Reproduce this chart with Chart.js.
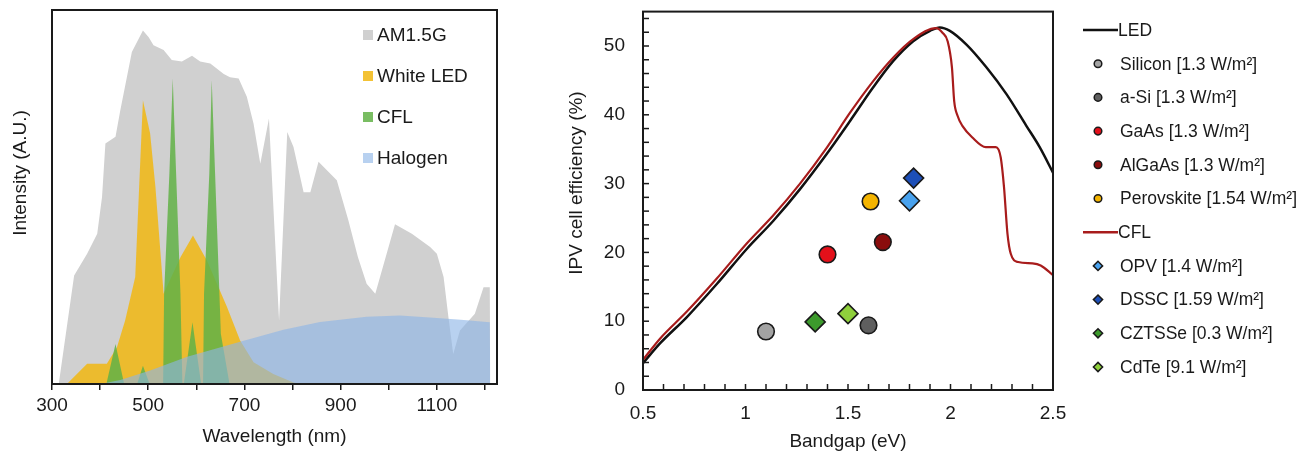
<!DOCTYPE html>
<html>
<head>
<meta charset="utf-8">
<title>Light source spectra and IPV cell efficiency</title>
<script src="https://cdn.jsdelivr.net/npm/chart.js@4.4.1/dist/chart.umd.min.js"></script>
<style>
  html, body { margin: 0; padding: 0; background: #fff; }
  #wrap { position: relative; width: 1316px; height: 453px; overflow: hidden; }
  #spectrumChart { position: absolute; left: 0; top: 0; }
  #ipvChart { position: absolute; left: 540px; top: 0; }
</style>
</head>
<body>
<div id="wrap">
  <canvas id="spectrumChart" width="530" height="453"></canvas>
  <canvas id="ipvChart" width="776" height="453"></canvas>
</div>
<script>
// ==========================================================================
// 1. DATA (spectra in arbitrary units, efficiencies in %)
// ==========================================================================
const spectrumLabels = ['AM1.5G', 'White LED', 'CFL', 'Halogen'];

const am15Wavelength = [314, 346, 373, 394, 404, 411, 432, 442, 466, 489, 501, 511, 532, 549, 570, 591, 608, 629, 657, 670, 688, 705, 719, 733, 751, 772, 789, 802, 823, 837, 854, 892, 916, 936, 954, 972, 1013, 1048, 1086, 1100, 1114, 1124, 1134, 1148, 1179, 1197, 1210, 1211];
const am15Intensity  = [0, 29.0, 34.8, 40.2, 50.0, 64.3, 66.1, 73.2, 88.8, 94.5, 92.7, 90.6, 89.3, 86.6, 86.2, 87.8, 86.2, 85.7, 82.9, 82.0, 81.7, 76.8, 69.6, 58.9, 71.0, 17.0, 67.4, 63.4, 51.3, 51.3, 59.4, 54.5, 43.8, 33.9, 26.8, 24.1, 42.7, 40.2, 36.6, 34.8, 28.6, 17.9, 8.0, 14.3, 18.8, 25.9, 25.9, 0];

const whiteLedWavelength = [331, 373, 414, 435, 452, 473, 489, 504, 515, 532, 567, 593, 622, 664, 691, 719, 760, 802, 816];
const whiteLedIntensity  = [0, 5.4, 5.4, 9.8, 17.0, 28.6, 75.9, 67.0, 52.7, 24.1, 33.9, 39.7, 33.0, 20.5, 11.6, 5.8, 2.7, 0.4, 0];

const cflWavelength = [413, 432, 450, 477, 489, 503, 531, 533, 544, 551, 558, 567, 571, 574, 592, 610, 614, 616, 627, 632, 639, 648, 651, 669];
const cflIntensity  = [0, 10.7, 0, 0, 4.9, 0, 0, 24.1, 56.3, 81.7, 56.3, 24.1, 0, 0, 16.5, 0, 0, 24.1, 56.3, 81.3, 56.3, 24.1, 13.4, 0];

const halogenWavelength = [400, 442, 504, 581, 691, 781, 857, 954, 1023, 1093, 1150, 1210, 1211];
const halogenIntensity  = [0, 1.1, 3.6, 7.3, 11.3, 14.5, 16.6, 18.0, 18.3, 17.7, 17.2, 16.5, 0];

const wavelengthTicks = [300, 500, 700, 900, 1100];

const ledCurveBandgap    = [0.5, 0.584, 0.714, 0.86, 1.006, 1.136, 1.266, 1.396, 1.51, 1.623, 1.72, 1.818, 1.9, 1.948, 1.997, 2.078, 2.175, 2.273, 2.37, 2.435, 2.5];
const ledCurveEfficiency = [3.9, 6.8, 10.6, 15.4, 20.5, 24.6, 29.2, 34.3, 39.1, 44.0, 47.8, 50.7, 52.2, 52.7, 52.2, 50.2, 46.9, 43.0, 38.4, 35.3, 31.6];

const cflCurveBandgap    = [0.5, 0.584, 0.714, 0.86, 1.006, 1.136, 1.266, 1.396, 1.51, 1.623, 1.72, 1.818, 1.93, 1.962, 1.986, 2.007, 2.018, 2.034, 2.058, 2.107, 2.172, 2.221, 2.245, 2.261, 2.278, 2.294, 2.33, 2.4, 2.44, 2.5];
const cflCurveEfficiency = [4.4, 7.5, 11.4, 16.2, 21.3, 25.4, 30.0, 35.2, 40.3, 44.9, 48.3, 51.0, 52.6, 51.9, 50.7, 46.9, 42.0, 39.9, 38.4, 36.7, 35.3, 35.3, 33.8, 29.5, 22.7, 19.8, 18.6, 18.4, 18.1, 16.7];

const cellLabels = ['Silicon [1.3 W/m²]', 'a-Si [1.3 W/m²]', 'GaAs [1.3 W/m²]', 'AlGaAs [1.3 W/m²]', 'Perovskite [1.54 W/m²]',
                    'OPV [1.4 W/m²]', 'DSSC [1.59 W/m²]', 'CZTSSe [0.3 W/m²]', 'CdTe [9.1 W/m²]'];
const cellBandgap    = [1.10, 1.60, 1.40, 1.67, 1.61, 1.80, 1.82, 1.34, 1.50];
const cellEfficiency = [8.5, 9.4, 19.7, 21.5, 27.4, 27.5, 30.8, 9.9, 11.1];

// styles
const spectrumColors = ['rgb(208,208,208)', 'rgba(241,183,18,0.85)', 'rgba(98,178,70,0.85)', 'rgba(140,180,230,0.62)'];
const cellColors = ['#a3a3a3', '#5f5f5f', '#e3101a', '#8a0d0d', '#f4b400', '#49a2ee', '#1d4fb8', '#3c9a2c', '#8fd03c'];
const cellShapes = ['circle', 'circle', 'circle', 'circle', 'circle', 'rectRot', 'rectRot', 'rectRot', 'rectRot'];

const FONT = "'Liberation Sans', Arial, Helvetica, sans-serif";
const INK = '#1a1a1a';
Chart.defaults.font.family = FONT;
Chart.defaults.color = INK;

const toPoints = (xs, ys) => xs.map((x, i) => ({ x: x, y: ys[i] }));

// ==========================================================================
// 2. PLUGINS (box frame, inward ticks, rotated y title, side legend)
// ==========================================================================
const plotFrame = {
  id: 'plotFrame',
  afterDatasetsDraw(chart, args, opts) {
    const { ctx, chartArea: a } = chart;
    ctx.save();
    ctx.strokeStyle = INK;
    ctx.lineWidth = 2;
    ctx.strokeRect(a.left, a.top, a.right - a.left, a.bottom - a.top);

    // minor tick marks pointing into the plot
    ctx.lineWidth = 1.5;
    if (opts.xMinor) {
      const sx = chart.scales.x;
      const n = Math.round((sx.max - sx.min) / opts.xMinor);
      for (let i = 1; i < n; i++) {
        const px = sx.getPixelForValue(sx.min + i * opts.xMinor);
        ctx.beginPath();
        ctx.moveTo(px, a.bottom);
        ctx.lineTo(px, a.bottom - 6);
        ctx.stroke();
      }
    }
    if (opts.yMinor) {
      const sy = chart.scales.y;
      const n = Math.floor((sy.max - sy.min) / opts.yMinor + 1e-6);
      for (let i = 1; i <= n; i++) {
        const py = sy.getPixelForValue(sy.min + i * opts.yMinor);
        if (py <= a.top + 1) continue;
        ctx.beginPath();
        ctx.moveTo(a.left, py);
        ctx.lineTo(a.left + 6, py);
        ctx.stroke();
      }
    }

    if (opts.yTitle) {
      ctx.translate(opts.yTitle.x, opts.yTitle.y);
      ctx.rotate(-Math.PI / 2);
      ctx.font = '19px ' + FONT;
      ctx.fillStyle = INK;
      ctx.textAlign = 'center';
      ctx.textBaseline = 'middle';
      ctx.fillText(opts.yTitle.text, 0, 0);
    }
    ctx.restore();
  }
};

const sideLegend = {
  id: 'sideLegend',
  afterDraw(chart, args, opts) {
    const ctx = chart.ctx;
    ctx.save();
    ctx.font = opts.fontSize + 'px ' + FONT;
    ctx.textBaseline = 'middle';
    chart.data.datasets.forEach((ds, i) => {
      const y = opts.top + i * opts.rowHeight;
      if (opts.swatch === 'square') {
        ctx.fillStyle = ds.backgroundColor;
        ctx.fillRect(opts.x, y - 5, 10, 10);
        ctx.fillStyle = INK;
        ctx.fillText(ds.label, opts.x + 14, y + 1);
      } else if (ds.showLine) {
        ctx.strokeStyle = ds.borderColor;
        ctx.lineWidth = 2.5;
        ctx.beginPath();
        ctx.moveTo(opts.x, y);
        ctx.lineTo(opts.x + 35, y);
        ctx.stroke();
        ctx.fillStyle = INK;
        ctx.fillText(ds.label, opts.x + 35, y + 1);
      } else {
        ctx.fillStyle = ds.backgroundColor;
        ctx.strokeStyle = INK;
        ctx.lineWidth = 1.5;
        Chart.helpers.drawPoint(ctx, {
          pointStyle: ds.pointStyle,
          radius: ds.pointStyle === 'circle' ? 3.8 : 4.6,
          rotation: 0,
          borderWidth: 1.5
        }, opts.x + 15, y);
        ctx.fillStyle = INK;
        ctx.fillText(ds.label, opts.x + 37, y + 1);
      }
    });
    ctx.restore();
  }
};

// keep the plot area exactly where the layout padding puts it
const noScalePadding = (scale) => {
  scale.paddingTop = 0;
  scale.paddingBottom = 0;
  scale.paddingLeft = 0;
  scale.paddingRight = 0;
};

// ==========================================================================
// 3. LEFT PANEL: light source spectra
// ==========================================================================
const spectra = [
  [am15Wavelength, am15Intensity],
  [whiteLedWavelength, whiteLedIntensity],
  [cflWavelength, cflIntensity],
  [halogenWavelength, halogenIntensity]
];

new Chart(document.getElementById('spectrumChart'), {
  type: 'line',
  data: {
    datasets: spectra.map((s, i) => ({
      label: spectrumLabels[i],
      data: toPoints(s[0], s[1]),
      backgroundColor: spectrumColors[i],
      borderWidth: 0,
      pointRadius: 0,
      fill: 'origin',
      tension: 0,
      order: spectra.length - 1 - i // later series painted on top
    }))
  },
  plugins: [plotFrame, sideLegend],
  options: {
    responsive: false,
    animation: false,
    layout: { padding: { top: 10, right: 33, left: 0, bottom: 0 } },
    plugins: {
      legend: { display: false },
      tooltip: { enabled: false },
      plotFrame: { yTitle: { text: 'Intensity (A.U.)', x: 21, y: 173 } },
      sideLegend: { swatch: 'square', x: 363, top: 35, rowHeight: 41, fontSize: 19 }
    },
    scales: {
      x: {
        type: 'linear',
        min: 300,
        max: 1225,
        afterFit: (scale) => { scale.height = 69; noScalePadding(scale); },
        grid: { display: true, drawOnChartArea: false, drawTicks: true, tickLength: 6, color: INK, lineWidth: 1.5 },
        border: { display: false },
        ticks: {
          stepSize: 100,
          includeBounds: false,
          autoSkip: false,
          maxRotation: 0,
          padding: 4,
          font: { size: 19 },
          callback: (v) => wavelengthTicks.includes(v) ? String(v) : ''
        },
        title: { display: true, text: 'Wavelength (nm)', font: { size: 19 }, padding: { top: 0, bottom: 5 } }
      },
      y: {
        min: 0,
        max: 100,
        afterFit: (scale) => { scale.width = 52; noScalePadding(scale); },
        grid: { display: false },
        border: { display: false },
        ticks: { display: false }
      }
    }
  }
});

// ==========================================================================
// 4. RIGHT PANEL: IPV efficiency limits vs bandgap
// ==========================================================================
const lineSet = (label, xs, ys, color) => ({
  label: label,
  data: toPoints(xs, ys),
  showLine: true,
  borderColor: color,
  backgroundColor: color,
  borderWidth: label === 'CFL' ? 2.2 : 2.5,
  pointRadius: 0,
  cubicInterpolationMode: 'monotone',
  order: label === 'CFL' ? 1 : 2
});

const cellSet = (i) => ({
  label: cellLabels[i],
  data: [{ x: cellBandgap[i], y: cellEfficiency[i] }],
  pointStyle: cellShapes[i],
  pointRadius: cellShapes[i] === 'circle' ? 8.3 : 10,
  backgroundColor: cellColors[i],
  borderColor: INK,
  borderWidth: 1.6,
  order: 0
});

const ipvDatasets = [lineSet('LED', ledCurveBandgap, ledCurveEfficiency, '#111111')];
for (let i = 0; i < 5; i++) ipvDatasets.push(cellSet(i));
ipvDatasets.push(lineSet('CFL', cflCurveBandgap, cflCurveEfficiency, '#a81c1c'));
for (let i = 5; i < cellLabels.length; i++) ipvDatasets.push(cellSet(i));

new Chart(document.getElementById('ipvChart'), {
  type: 'scatter',
  data: { datasets: ipvDatasets },
  plugins: [plotFrame, sideLegend],
  options: {
    responsive: false,
    animation: false,
    layout: { padding: { top: 10, right: 263, left: 0, bottom: 0 } },
    plugins: {
      legend: { display: false },
      tooltip: { enabled: false },
      plotFrame: { xMinor: 0.1, yMinor: 2, yTitle: { text: 'IPV cell efficiency (%)', x: 37, y: 183 } },
      sideLegend: { swatch: 'mixed', x: 543, top: 30, rowHeight: 33.7, fontSize: 17.5 }
    },
    scales: {
      x: {
        type: 'linear',
        min: 0.5,
        max: 2.5,
        afterFit: (scale) => { scale.height = 63; noScalePadding(scale); },
        grid: { display: false, drawTicks: false },
        border: { display: false },
        ticks: { stepSize: 0.5, padding: 12, maxRotation: 0, font: { size: 19 }, callback: (v) => String(v) },
        title: { display: true, text: 'Bandgap (eV)', font: { size: 19 }, padding: { top: 0, bottom: 0 } }
      },
      y: {
        min: 0,
        max: 55,
        afterFit: (scale) => { scale.width = 103; noScalePadding(scale); },
        grid: { display: false, drawTicks: false },
        border: { display: false },
        ticks: { stepSize: 10, includeBounds: false, padding: 18, font: { size: 19 } }
      }
    }
  }
});
</script>
</body>
</html>
